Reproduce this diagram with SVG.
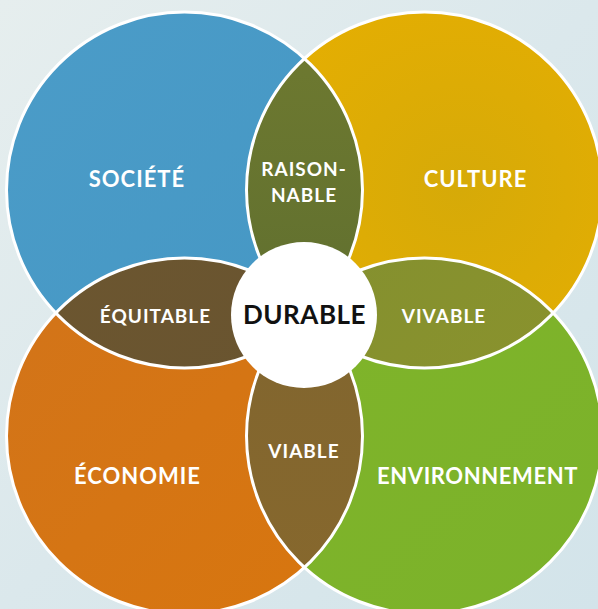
<svg xmlns="http://www.w3.org/2000/svg" width="598" height="609" viewBox="0 0 598 609">
  <defs>
    <linearGradient id="bg" x1="0" y1="0" x2="1" y2="1">
      <stop offset="0" stop-color="#e6eeee"/>
      <stop offset="0.5" stop-color="#dbe8ec"/>
      <stop offset="1" stop-color="#d3e4ea"/>
    </linearGradient>
    <linearGradient id="gBlue" x1="0" y1="0" x2="1" y2="1">
      <stop offset="0" stop-color="#4b9cc8"/>
      <stop offset="1" stop-color="#4597c4"/>
    </linearGradient>
    <radialGradient id="gYellow" cx="0.6" cy="0.5" r="0.6">
      <stop offset="0" stop-color="#d6aa08"/>
      <stop offset="1" stop-color="#e4ae02"/>
    </radialGradient>
    <linearGradient id="gOrange" x1="0" y1="0" x2="1" y2="1">
      <stop offset="0" stop-color="#d2741a"/>
      <stop offset="1" stop-color="#d8760e"/>
    </linearGradient>
    <linearGradient id="gGreen" x1="0" y1="0" x2="1" y2="1">
      <stop offset="0" stop-color="#80b42a"/>
      <stop offset="1" stop-color="#7bb22a"/>
    </linearGradient>
    <linearGradient id="gRais" x1="0" y1="0" x2="0" y2="1">
      <stop offset="0" stop-color="#6f7a30"/>
      <stop offset="1" stop-color="#5e6e2f"/>
    </linearGradient>
    <linearGradient id="gViv" x1="0" y1="0" x2="1" y2="1">
      <stop offset="0" stop-color="#808f30"/>
      <stop offset="1" stop-color="#8a922d"/>
    </linearGradient>
    <linearGradient id="gEqu" x1="0" y1="0" x2="1" y2="1">
      <stop offset="0" stop-color="#6c5630"/>
      <stop offset="1" stop-color="#67532f"/>
    </linearGradient>
    <linearGradient id="gVia" x1="0" y1="0" x2="0" y2="1">
      <stop offset="0" stop-color="#80652f"/>
      <stop offset="1" stop-color="#87682d"/>
    </linearGradient>
    <clipPath id="cBlue"><circle cx="184.5" cy="190" r="178"/></clipPath>
    <clipPath id="cGreen"><circle cx="424.5" cy="436" r="178"/></clipPath>
    <style>
      .lbl { font-family: "Lato", "Liberation Sans", sans-serif; font-weight: 700; fill: #ffffff; text-anchor: middle; letter-spacing: 1px; }
      .big { font-size: 22px; }
      .small { font-size: 19px; }
      .ring { fill: none; stroke: #ffffff; stroke-width: 3; }
      .core { font-family: "Lato", "Liberation Sans", sans-serif; font-weight: 700; font-size: 26px; fill: #111111; text-anchor: middle; letter-spacing: 0.5px; }
    </style>
  </defs>

  <rect width="598" height="609" fill="url(#bg)"/>

  <g id="societe">
    <circle cx="184.5" cy="190" r="178" fill="url(#gBlue)"/>
  </g>
  <g id="culture">
    <circle cx="424.5" cy="190" r="178" fill="url(#gYellow)"/>
  </g>
  <g id="economie">
    <circle cx="184.5" cy="436" r="178" fill="url(#gOrange)"/>
  </g>
  <g id="environnement">
    <circle cx="424.5" cy="436" r="178" fill="url(#gGreen)"/>
  </g>

  <g id="raisonnable">
    <circle cx="424.5" cy="190" r="178" fill="url(#gRais)" clip-path="url(#cBlue)"/>
  </g>
  <g id="equitable">
    <circle cx="184.5" cy="436" r="178" fill="url(#gEqu)" clip-path="url(#cBlue)"/>
  </g>
  <g id="vivable">
    <circle cx="424.5" cy="190" r="178" fill="url(#gViv)" clip-path="url(#cGreen)"/>
  </g>
  <g id="viable">
    <circle cx="184.5" cy="436" r="178" fill="url(#gVia)" clip-path="url(#cGreen)"/>
  </g>

  <g id="outlines">
    <circle class="ring" cx="184.5" cy="190" r="178"/>
    <circle class="ring" cx="424.5" cy="190" r="178"/>
    <circle class="ring" cx="184.5" cy="436" r="178"/>
    <circle class="ring" cx="424.5" cy="436" r="178"/>
  </g>

  <g id="durable">
    <circle cx="304" cy="315" r="73" fill="#ffffff"/>
    <text class="core" x="304.5" y="324">DURABLE</text>
  </g>

  <g id="labels">
    <text class="lbl big" x="137" y="187">SOCIÉTÉ</text>
    <text class="lbl big" x="475.5" y="187">CULTURE</text>
    <text class="lbl small" x="304" y="176">RAISON-</text>
    <text class="lbl small" x="304" y="202">NABLE</text>
    <text class="lbl small" x="155.5" y="323">ÉQUITABLE</text>
    <text class="lbl small" x="444" y="323">VIVABLE</text>
    <text class="lbl small" x="304" y="458">VIABLE</text>
    <text class="lbl big" x="137.5" y="484">ÉCONOMIE</text>
    <text class="lbl big" x="477.5" y="484" style="letter-spacing:0.6px">ENVIRONNEMENT</text>
  </g>
</svg>
